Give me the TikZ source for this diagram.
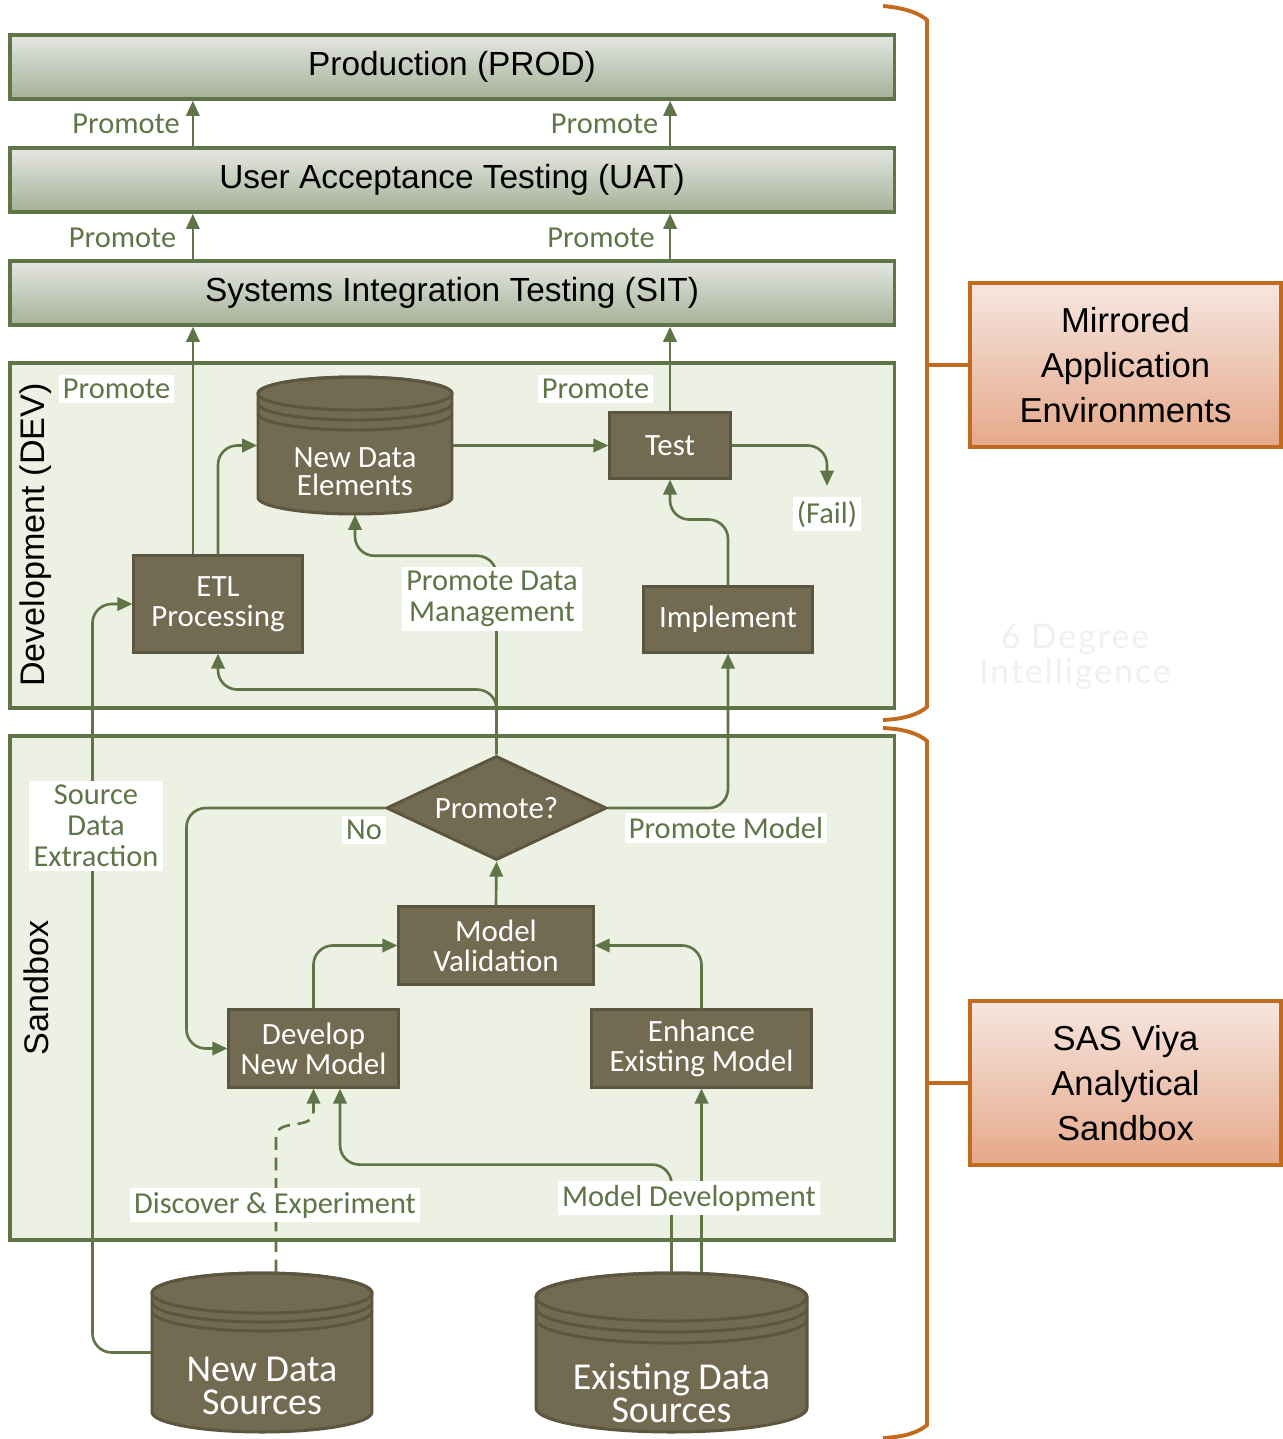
\documentclass[tikz,border=0pt]{standalone}
\usepackage{fontspec}
\setmainfont{Carlito}
\newfontfamily\headfont{Liberation Sans}
\newfontfamily\markfont[LetterSpace=6]{Lato}
\usetikzlibrary{arrows.meta, shapes.geometric, calc}

\definecolor{lineGreen}{HTML}{5F7548}
\definecolor{boxFill}{HTML}{736A52}
\definecolor{boxEdge}{HTML}{5C5640}
\definecolor{envFill}{HTML}{EDF1E3}
\definecolor{barTop}{HTML}{E4E7E1}
\definecolor{barBottom}{HTML}{A7B097}
\definecolor{braceOrange}{HTML}{C26A1E}
\definecolor{noteTop}{HTML}{F6E6DF}
\definecolor{noteBottom}{HTML}{E5A88A}

\begin{document}
\begin{tikzpicture}[x=0.01cm, y=0.01cm,
    flow/.style={draw=lineGreen, line width=0.75pt, rounded corners=5.5pt, -{Triangle[length=4.3pt,width=3.8pt]}},
    envbar/.style={draw=lineGreen, line width=1pt, top color=barTop, bottom color=barBottom, minimum width=8.84cm, minimum height=0.64cm, inner sep=0pt, font=\headfont\fontsize{9.5}{11}\selectfont},
    stage/.style={draw=lineGreen, line width=1pt, fill=envFill, minimum width=8.84cm, inner sep=0pt},
    stagename/.style={rotate=90, font=\headfont\fontsize{9.7}{11}\selectfont},
    proc/.style={draw=boxEdge, line width=0.85pt, fill=boxFill, text=white, inner sep=0pt, align=center, font=\fontsize{8.8}{8.6}\selectfont},
    tag/.style={fill=white, text=lineGreen, inner sep=1.2pt, align=center, font=\fontsize{8.65}{8.8}\selectfont},
    note/.style={draw=braceOrange, line width=1pt, top color=noteTop, bottom color=noteBottom, minimum width=3.11cm, minimum height=1.64cm, align=center, font=\headfont\fontsize{9.85}{12.7}\selectfont},
    brace/.style={draw=braceOrange, line width=1.1pt},
    dbtext/.style={text=white, align=center, inner sep=0pt}
  ]
  % cylinder: centre x, top y, bottom y, x radius, y radius, gap of the rings
  \newcommand*{\dbdraw}[6]{%
    \filldraw[draw=boxEdge, line width=0.85pt, fill=boxFill]
      (#1-#4,#2-#5) -- (#1-#4,#3+#5) arc[start angle=180, end angle=360, x radius=#4, y radius=#5]
      -- (#1+#4,#2-#5) arc[start angle=0, end angle=180, x radius=#4, y radius=#5] -- cycle;
    \draw[boxEdge, line width=0.85pt] (#1,#2-#5) ellipse[x radius=#4, y radius=#5];
    \draw[boxEdge, line width=0.85pt] (#1-#4,#2-#5-#6) arc[start angle=180, end angle=360, x radius=#4, y radius=#5];
    \draw[boxEdge, line width=0.85pt] (#1-#4,#2-#5-2*#6) arc[start angle=180, end angle=360, x radius=#4, y radius=#5];}

  \fill[white] (0,0) rectangle (1283,-1439);
  \useasboundingbox (0,0) rectangle (1283,-1439);

  % environments
  \node[envbar] (prod) at (452,-67) {Production (PROD)};
  \node[envbar] (uat) at (452,-180) {User Acceptance Testing (UAT)};
  \node[envbar] (sit) at (452,-293) {Systems Integration Testing (SIT)};
  \node[stage, minimum height=3.45cm] (dev) at (452,-535.5) {};
  \node[stage, minimum height=5.04cm] (sandbox) at (452,-988) {};
  \node[stagename] (devname) at (36,-535) {Development (DEV)};
  \node[stagename] (sandboxname) at (36,-988) {Sandbox};

  % data stores
  \dbdraw{355}{-377}{-514}{97}{16.5}{10}
  \node[inner sep=0pt, minimum width=1.94cm, minimum height=1.37cm] (newelem) at (355,-445.5) {};
  \node[dbtext, font=\fontsize{8.8}{8}\selectfont] (newelem-txt) at (355,-472) {New Data\\Elements};
  \dbdraw{262}{-1273}{-1432}{110}{20}{9}
  \node[inner sep=0pt, minimum width=2.2cm, minimum height=1.59cm] (newsrc) at (262,-1352.5) {};
  \node[dbtext, font=\fontsize{10.8}{9.4}\selectfont] (newsrc-txt) at (262,-1386) {New Data\\Sources};
  \dbdraw{671.5}{-1273}{-1432}{135.5}{24}{11}
  \node[inner sep=0pt, minimum width=2.71cm, minimum height=1.59cm] (existsrc) at (671.5,-1352.5) {};
  \node[dbtext, font=\fontsize{10.8}{9.4}\selectfont] (existsrc-txt) at (671.5,-1393) {Existing Data\\Sources};

  % steps
  \node[proc, minimum width=1.2cm, minimum height=0.65cm] (test) at (670,-445.5) {Test};
  \node[proc, minimum width=1.68cm, minimum height=0.96cm] (etl) at (218,-604) {ETL\\Processing};
  \node[proc, minimum width=1.68cm, minimum height=0.65cm] (implement) at (728,-619.5) {Implement};
  \node[proc, shape=diamond, aspect=2.1, minimum width=2.2cm, minimum height=1.04cm] (promq) at (496.5,-808) {Promote?};
  \node[proc, minimum width=1.94cm, minimum height=0.77cm] (modelval) at (496,-945.5) {Model\\Validation};
  \node[proc, minimum width=1.69cm, minimum height=0.77cm] (devmodel) at (313.5,-1048.5) {Develop\\New Model};
  \node[proc, minimum width=2.19cm, minimum height=0.77cm] (enhance) at (701.5,-1048.5) {Enhance\\Existing Model};
  \node[tag] (fail) at (827,-514) {(Fail)};

  % promotion between environments
  \foreach \lo/\hi in {uat/prod, sit/uat}
    \foreach \dx in {-2.59cm, 2.18cm}
      \draw[flow] ([xshift=\dx]\lo.north) -- ([xshift=\dx]\hi.south);

  \draw[flow] ([xshift=-0.25cm]etl.north) -- ([xshift=-0.25cm]etl.north |- sit.south);
  \draw[flow] (etl.north) |- (newelem.west);
  \draw[flow] (newelem.east) -- (test.west);
  \draw[flow] (test.north) -- (test.north |- sit.south);
  \draw[flow] (test.east) -| ([yshift=0.1cm]fail.north);
  \draw[flow] (implement.north) |- ([yshift=-0.4cm]test.south) -- (test.south);
  \draw[flow] (promq.north) |- ([yshift=-0.41cm]newelem.south) -- (newelem.south);
  \draw[flow] (promq.north) |- ([yshift=-0.36cm]etl.south) -- (etl.south);
  \draw[flow] (promq.east) -| (implement.south);
  \draw[flow] (promq.west) -| ([xshift=-0.41cm]devmodel.west) -- (devmodel.west);
  \draw[flow] (modelval.north) -- (promq.south);
  \draw[flow] (devmodel.north) |- (modelval.west);
  \draw[flow] (enhance.north) |- (modelval.east);
  \draw[flow] (newsrc.west) -| ([xshift=-0.4cm]etl.west) -- (etl.west);
  \draw[flow, dash pattern=on 3.6pt off 2.2pt, rounded corners=0pt] ([xshift=0.14cm]newsrc.north) -- ++(0,1.35cm)
    .. controls +(0,0.2cm) and +(0,-0.2cm) .. ([yshift=-0.23cm]devmodel.south) -- (devmodel.south);
  \draw[flow] (existsrc.north) |- ([xshift=0.265cm, yshift=-0.76cm]devmodel.south) -- ([xshift=0.265cm]devmodel.south);
  \draw[flow] (enhance.south |- existsrc.north) -- (enhance.south);

  % labels on the connectors
  \node[tag] (prom1) at (126,-124) {Promote};
  \node[tag] (prom2) at (604.5,-124) {Promote};
  \node[tag] (prom3) at (122.5,-238) {Promote};
  \node[tag] (prom4) at (601,-238) {Promote};
  \node[tag] (prom5) at (116.5,-389) {Promote};
  \node[tag] (prom6) at (595.5,-389) {Promote};
  \node[tag] (promdata) at (492,-599) {Promote Data\\Management};
  \node[tag] (prommodel) at (726,-828) {Promote Model};
  \node[tag] (no) at (364,-830) {No};
  \node[tag] (extract) at (96,-826) {Source\\Data\\Extraction};
  \node[tag] (discover) at (275,-1205) {Discover \& Experiment};
  \node[tag] (modeldev) at (689,-1198) {Model Development};

  % braces and notes
  \node[note] (mirror) at (1125.5,-365) {Mirrored\\Application\\Environments};
  \node[note] (sasviya) at (1125.5,-1083) {SAS Viya\\Analytical\\Sandbox};
  \draw[brace] (883,-6) .. controls (905,-8) and (919,-13) .. (927,-20) -- (927,-707)
    .. controls (919,-714) and (905,-719) .. (883,-720);
  \draw[brace] (883,-728) .. controls (905,-729) and (919,-734) .. (927,-741) -- (927,-1425)
    .. controls (919,-1432) and (905,-1437) .. (883,-1438);
  \coordinate (envtip) at (927,-365);
  \coordinate (boxtip) at (927,-1083);
  \draw[brace] (envtip) -- (mirror.west);
  \draw[brace] (boxtip) -- (sasviya.west);

  \node[text=black!6, align=center, font=\markfont\fontsize{9.6}{10.2}\selectfont] (mark) at (1075,-657) {6 Degree\\Intelligence};
\end{tikzpicture}
\end{document}
